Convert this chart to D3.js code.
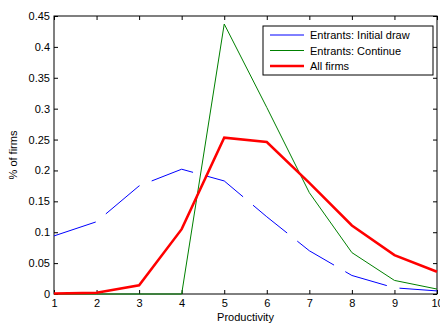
<!DOCTYPE html>
<html><head><meta charset="utf-8">
<script src="https://cdn.jsdelivr.net/npm/d3@7"></script>
<style>body{margin:0;background:#fff}text{font-family:"Liberation Sans",Arial,sans-serif}</style>
</head><body>
<svg id="c" width="440" height="323"></svg>
<script>
const productivity = [1,2,3,4,5,6,7,8,9,10];
const initialDraw = [0.094,0.117,0.175,0.202,0.183,0.125,0.070,0.030,0.010,0.005];
const continueEntrants = [0,0,0,0,0.437,0.302,0.164,0.067,0.022,0.008];
const allFirms = [0.001,0.002,0.014,0.105,0.253,0.246,0.180,0.111,0.063,0.036];
const yTicks = [0,0.05,0.1,0.15,0.2,0.25,0.3,0.35,0.4,0.45];
const seriesNames = ["Entrants: Initial draw","Entrants: Continue","All firms"];

const svg = d3.select("#c");
const L=54, R=437, T=16, B=294;
const x = d3.scaleLinear().domain([1,10]).range([L,R]);
const y = d3.scaleLinear().domain([0,0.45]).range([B,T]);

const g = svg.append("g");
const ax = (axis, tr) => {
  const a = g.append("g").attr("transform", tr).call(axis);
  a.select(".domain").remove();
  a.selectAll("line").attr("stroke","#000");
  a.selectAll("text").attr("font-size",11).attr("fill","#000");
  return a;
};
ax(d3.axisBottom(x).tickValues(productivity).tickSize(-4).tickPadding(5).tickFormat(d3.format("d")), `translate(0,${B})`);
ax(d3.axisTop(x).tickValues(productivity).tickSize(-4).tickFormat(""), `translate(0,${T})`);
ax(d3.axisLeft(y).tickValues(yTicks).tickSize(-4).tickPadding(4).tickFormat(d=>d===0?"0":String(d)), `translate(${L},0)`);
ax(d3.axisRight(y).tickValues(yTicks).tickSize(-4).tickFormat(""), `translate(${R},0)`);
g.append("rect").attr("x",L).attr("y",T).attr("width",R-L).attr("height",B-T).attr("fill","none").attr("stroke","#000").attr("stroke-width",1);

const line = d3.line().x((d,i)=>x(productivity[i])).y(d=>y(d));
g.append("path").datum(initialDraw).attr("d",line).attr("fill","none").attr("stroke","#0000ff").attr("stroke-width",1).attr("stroke-dasharray","44,13");
g.append("path").datum(continueEntrants).attr("d",line).attr("fill","none").attr("stroke","#008000").attr("stroke-width",1);
g.append("path").datum(allFirms).attr("d",line).attr("fill","none").attr("stroke","#ff0000").attr("stroke-width",2.5);

const lg = g.append("g");
lg.append("rect").attr("x",263).attr("y",26).attr("width",170).attr("height",49).attr("fill","#fff").attr("stroke","#000");
const cols=["#0000ff","#008000","#ff0000"], widths=[1,1,2.5];
seriesNames.forEach((n,i)=>{
  const yy = 35+i*15.5;
  lg.append("line").attr("x1",270).attr("x2",304).attr("y1",yy).attr("y2",yy).attr("stroke",cols[i]).attr("stroke-width",widths[i]);
  lg.append("text").attr("x",310).attr("y",yy+4).attr("font-size",11).text(n);
});

svg.append("text").attr("x",(L+R)/2).attr("y",321).attr("text-anchor","middle").attr("font-size",11).text("Productivity");
svg.append("text").attr("transform",`translate(17,${(T+B)/2}) rotate(-90)`).attr("text-anchor","middle").attr("font-size",11).text("% of firms");
</script>
</body></html>
